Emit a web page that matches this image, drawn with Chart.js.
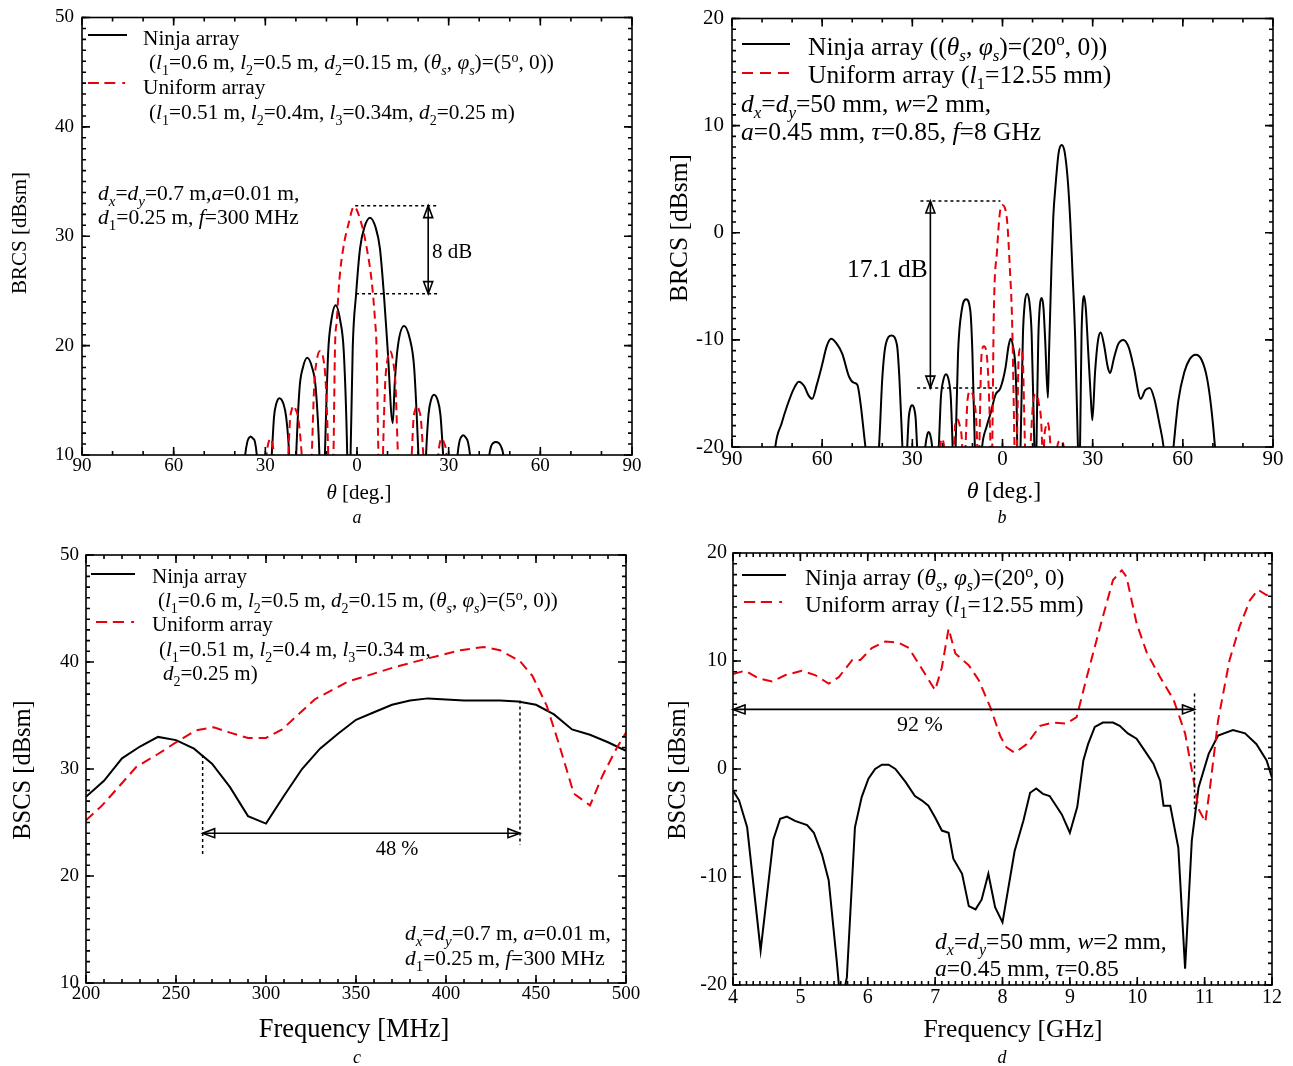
<!DOCTYPE html>
<html><head><meta charset="utf-8">
<script src="https://cdn.jsdelivr.net/npm/chart.js@4.4.1/dist/chart.umd.min.js"></script>
<style>
html,body{margin:0;padding:0;background:#fff;}
body{width:1293px;height:1066px;position:relative;overflow:hidden;}
canvas{position:absolute;left:0;top:0;}
</style></head><body>
<canvas id="ca" width="1293" height="1066"></canvas>
<canvas id="cb" width="1293" height="1066"></canvas>
<canvas id="cc" width="1293" height="1066"></canvas>
<canvas id="cd" width="1293" height="1066"></canvas>
<script>
// ---------------- DATA ----------------
// Panel a: BRCS [dBsm] vs theta [deg]
const aNinja = [[-40,0],[-36.6,10],[-35.9,11.2],[-35.5,11.5],[-34.8,11.7],[-34.0,11.5],[-33.4,11.2],[-32.8,10],[-30.4,0],
 [-27.9,10],[-27.15,13.5],[-26.4,14.7],[-25.4,15.2],[-24.1,14.7],[-23.2,13.5],[-22.2,10],[-21.05,0],
 [-19.9,10],[-18.8,16.1],[-17.7,18.0],[-16.3,18.9],[-14.7,18.0],[-13.5,16.1],[-12.3,10],[-11.4,0],
 [-10.5,10],[-9.45,19.3],[-8.4,22.3],[-7.0,23.7],[-5.5,22.3],[-4.3,19.3],[-3.2,10],[-2.65,0],
 [-2.1,10],[-1.4,19.8],[-0.3,24.7],[1.0,28.9],[2.4,30.8],[4.25,31.7],[6.1,30.8],[7.5,28.9],[8.8,24.7],[10.0,19.8],[11.7,12.9],
 [12.4,16.8],[13.4,20.0],[15.4,21.8],[17.3,20.6],[18.7,18.0],[20.1,10],[21.35,0],
 [22.6,10],[23.4,13.7],[24.2,15.0],[25.2,15.5],[26.4,15.0],[27.3,13.7],[28.2,10],[30.5,0],
 [32.9,10],[33.5,11.2],[34.0,11.6],[34.8,11.8],[35.6,11.6],[36.3,11.2],[37.0,10],[40.2,0],
 [43.3,10],[43.9,10.8],[44.6,11.1],[45.4,11.2],[46.4,11.1],[47.1,10.8],[47.9,10],[51,0]];
const aUniform = [[-32,0],[-29.6,10],[-29.0,11.1],[-28.3,11.5],[-27.7,11.1],[-27.2,10],[-24.8,0],
 [-22.5,10],[-21.9,13.3],[-21.4,14.1],[-20.8,14.5],[-20.0,14.1],[-19.2,13.3],[-18.1,10],[-16.4,0],
 [-14.8,10],[-14.0,16.4],[-13.2,18.6],[-12.1,19.5],[-10.9,18.6],[-10.2,16.4],[-9.4,10],[-8.6,0],
 [-7.7,10],[-7.2,19.8],[-6.6,22.3],[-5.8,25.9],[-4.5,28.9],[-2.8,31.1],[-1.0,32.7],[1.5,31.1],[3.2,28.9],[4.8,25.9],[5.9,22.3],[6.4,19.8],[7.0,10],[7.8,0],
 [8.5,10],[9.2,16.4],[9.9,18.6],[10.8,19.5],[11.8,18.6],[12.6,16.4],[13.4,10],[15.6,0],
 [17.9,10],[18.5,13.3],[19.0,14.1],[19.5,14.5],[20.3,14.1],[20.9,13.3],[21.7,10],[24.1,0],
 [26.6,10],[27.1,11.1],[27.7,11.5],[28.5,11.1],[29.3,10],[31,0]];
const aXTicks = [-90,-60,-30,0,30,60,90];
const aYTicks = [10,20,30,40,50];

// Panel b: BRCS [dBsm] vs theta [deg]
const bNinja = [[-77,-25],[-75.6,-20],[-73.5,-17.8],[-71.7,-16.2],[-69.5,-14.6],[-67.8,-13.9],[-66,-14.3],[-64.5,-15.2],[-63.3,-15.5],
 [-61.8,-14.2],[-60,-12.3],[-58.5,-10.6],[-57,-9.9],[-55.3,-10.3],[-53.3,-11.3],[-51.1,-13.4],[-49.5,-14.0],[-48.3,-14.2],
 [-47.2,-16.0],[-46.2,-18.5],[-45.6,-20],[-43.4,-25],
 [-41.1,-20],[-40.0,-13.6],[-38.9,-10.5],[-36.9,-9.6],[-35.1,-10.5],[-34.3,-13.6],[-33.3,-20],[-32.5,-25],
 [-31.7,-20],[-31.2,-17.3],[-30.7,-16.4],[-30.1,-16.1],[-29.4,-16.4],[-28.9,-17.3],[-28.4,-20],[-27.0,-25],
 [-25.7,-20],[-25.0,-18.8],[-24.6,-18.6],[-24.1,-18.8],[-23.4,-20],[-22.3,-25],
 [-21.2,-20],[-20.5,-15.4],[-19.8,-13.9],[-18.8,-13.2],[-17.8,-13.9],[-17.2,-15.4],[-16.6,-20],[-16.1,-25],
 [-15.6,-20],[-14.8,-11.3],[-13.6,-7.3],[-12.1,-6.2],[-10.7,-7.3],[-10.0,-11.3],[-9.2,-20],[-8.0,-25],
 [-6.8,-20],[-5.3,-18.1],[-4.0,-16.9],[-2.3,-15.1],[-0.7,-14.5],[1.0,-12.6],[2.0,-10.6],[2.7,-9.9],[3.5,-10.6],[4.3,-12.6],[4.7,-16.0],[4.9,-20],[5.5,-25],
 [6.0,-20],[6.8,-9.5],[7.4,-6.6],[8.2,-5.7],[9.0,-6.6],[9.7,-9.5],[10.6,-20],[11.0,-25],
 [11.3,-20],[11.9,-10.0],[12.4,-6.9],[13.0,-6.1],[13.6,-6.9],[14.2,-10.0],[15.1,-15.4],
 [15.5,-11.0],[16.3,-3.1],[16.9,1.5],[17.7,4.6],[18.7,7.5],[19.7,8.2],[20.7,7.5],[21.8,4.6],[22.6,0.8],[23.2,-3.1],[24.2,-10.0],[25.1,-20],[25.45,-25],
 [25.8,-20],[26.3,-9.5],[26.7,-6.6],[27.1,-5.9],[27.7,-7.0],[28.5,-11.0],[29.3,-15.0],[29.9,-17.5],
 [30.8,-13.0],[31.8,-10.0],[32.7,-9.3],[33.8,-10.5],[35.0,-12.5],[35.8,-13.1],[37.0,-11.8],[38.5,-10.4],[40.2,-10.0],[42.0,-10.7],
 [43.7,-12.6],[46.0,-15.5],[47.5,-14.7],[49.0,-14.5],[50.5,-15.5],[52.2,-17.8],[53.6,-20],[55.2,-25],
 [56.9,-20],[58.5,-15.7],[60.5,-13.0],[62.3,-11.8],[64.3,-11.4],[66.3,-11.9],[68.0,-13.5],[69.4,-16.2],[70.7,-20],[72,-25]];
const bUniform = [[-22,-25],[-20.8,-20],[-20.1,-19.2],[-19.4,-20],[-17.8,-25],
 [-16.2,-20],[-15.7,-17.8],[-15.1,-17.4],[-14.4,-17.8],[-13.4,-20],[-12.9,-25],
 [-12.3,-20],[-11.6,-15.5],[-10.7,-14.8],[-9.6,-15.5],[-8.4,-20],[-8.1,-25],
 [-7.7,-20],[-7.0,-11.5],[-6.2,-10.6],[-5.2,-11.5],[-4.0,-20],[-3.7,-25],
 [-3.4,-20],[-2.9,-7.7],[-1.8,-1.6],[-0.9,1.8],[-0.1,2.6],[0.7,2.4],[1.6,0.9],[2.4,-3.1],[3.2,-8.3],[4.0,-20],[4.4,-25],
 [4.8,-20],[5.4,-11.5],[6.0,-10.8],[6.7,-11.5],[7.5,-20],[8.4,-25],
 [9.3,-20],[10.2,-15.8],[11.0,-15.1],[12.0,-15.8],[13.2,-20],[13.5,-25],
 [13.8,-20],[14.4,-18.1],[14.9,-17.7],[15.4,-18.1],[16.0,-20],[17.1,-25],
 [18.2,-20],[19.3,-19.4],[20.4,-20],[21.5,-25]];
const bXTicks = [-90,-60,-30,0,30,60,90];
const bYTicks = [-20,-10,0,10,20];

// Panel c: BSCS [dBsm] vs frequency [MHz]
const cNinja = [[200,27.4],[210,28.9],[220,31.0],[230,32.1],[240,33.0],[250,32.7],[260,31.9],[270,30.5],[280,28.3],[290,25.6],
 [300,24.9],[310,27.5],[320,30.0],[330,31.9],[340,33.3],[350,34.6],[360,35.3],[370,36.0],[380,36.4],[390,36.6],
 [400,36.5],[410,36.4],[420,36.4],[430,36.4],[440,36.3],[450,36.0],[460,35.1],[470,33.7],[480,33.2],[490,32.5],[500,31.7]];
const cUniform = [[200,25.2],[209,26.6],[218,28.3],[228,30.2],[240,31.4],[251,32.6],[261,33.6],[271,33.9],[280,33.4],[290,32.9],
 [300,32.9],[309,33.7],[318,35.1],[327,36.5],[337,37.4],[346,38.2],[352,38.5],[371,39.5],[389,40.3],[408,41.1],
 [421,41.4],[430,41.1],[441,40.1],[448,38.7],[456,35.9],[463,32.2],[471,27.7],[480,26.6],[487,29.4],[495,32.0],[500,33.4]];
const cXTicks = [200,250,300,350,400,450,500];
const cYTicks = [10,20,30,40,50];

// Panel d: BSCS [dBsm] vs frequency [GHz]
const dNinja = [[4.00,-2.0],[4.09,-2.9],[4.21,-5.4],[4.41,-16.8],[4.60,-6.5],[4.70,-4.6],[4.80,-4.4],[4.92,-4.8],[5.10,-5.2],[5.20,-5.9],
 [5.32,-7.9],[5.42,-10.3],[5.54,-17.8],[5.60,-22.0],[5.69,-19.3],[5.81,-5.4],[5.91,-2.6],[6.01,-0.9],[6.11,0.0],[6.21,0.4],
 [6.31,0.4],[6.41,0.0],[6.56,-1.2],[6.70,-2.5],[6.80,-2.9],[6.90,-3.4],[7.00,-4.5],[7.10,-5.7],[7.20,-5.9],[7.27,-8.3],
 [7.40,-9.7],[7.50,-12.7],[7.60,-13.0],[7.69,-12.1],[7.79,-9.7],[7.89,-12.8],[8.00,-14.2],[8.18,-7.6],[8.31,-4.8],[8.41,-2.2],
 [8.50,-1.8],[8.60,-2.3],[8.70,-2.5],[8.88,-4.2],[9.00,-5.9],[9.11,-3.5],[9.20,0.8],[9.27,2.3],[9.37,3.9],[9.49,4.3],
 [9.64,4.3],[9.74,4.0],[9.86,3.3],[9.99,2.8],[10.11,1.7],[10.24,0.5],[10.34,-1.1],[10.39,-3.4],[10.49,-3.4],[10.61,-7.3],
 [10.71,-18.5],[10.81,-6.6],[10.91,-1.7],[11.06,1.4],[11.20,3.1],[11.42,3.6],[11.60,3.3],[11.77,2.3],[11.92,0.8],[12.00,-0.8]];
const dUniform = [[4.00,8.8],[4.18,9.1],[4.38,8.4],[4.58,8.1],[4.78,8.7],[5.02,9.1],[5.22,8.7],[5.42,7.9],[5.57,8.5],[5.77,10.1],
 [5.89,10.1],[6.06,11.2],[6.26,11.8],[6.46,11.7],[6.61,11.2],[6.80,9.3],[7.00,7.3],[7.10,9.4],[7.20,13.0],[7.30,10.7],
 [7.50,9.6],[7.65,8.2],[7.82,5.7],[7.97,3.0],[8.06,2.0],[8.18,1.5],[8.36,2.3],[8.56,4.0],[8.75,4.3],[8.95,4.2],
 [9.10,4.8],[9.25,8.5],[9.45,13.2],[9.64,17.5],[9.77,18.4],[9.84,17.8],[9.99,13.5],[10.14,10.8],[10.34,8.5],[10.54,6.4],
 [10.71,3.3],[10.83,-0.8],[10.91,-3.7],[11.01,-4.9],[11.08,-1.7],[11.20,4.5],[11.37,10.1],[11.52,13.2],[11.67,15.6],[11.79,16.6],
 [11.92,16.1],[12.00,16.3]];
const dXTicks = [4,5,6,7,8,9,10,11,12];
const dYTicks = [-20,-10,0,10,20];

// annotation values (data units)
const aLevels = [32.8, 24.75];     // 8 dB gap
const bLevels = [2.96, -14.5];     // 17.1 dB gap
const cBand = [264.8, 441.1];      // 48 % band
const dBand = [4.0, 10.85];        // 92 % band

// ---------------- RENDER HELPERS ----------------
const SERIF = '"Liberation Serif","Times New Roman",Times,serif';
function parseRich(s){
  const runs=[]; let it=false, sub=false, sup=false;
  for (const ch of s){
    if (ch==='*'){it=!it;continue;}
    if (ch==='_'){sub=true;continue;}
    if (ch==='^'){sup=true;continue;}
    const st=(it?'i':'n')+(sub?'b':(sup?'p':''));
    const last=runs[runs.length-1];
    if (last && last.st===st) last.t+=ch; else runs.push({t:ch,st});
    sub=false; sup=false;
  }
  return runs;
}
function rich(ctx, s, x, y, size, align){
  const runs=parseRich(s);
  const fontFor = st => (st[0]==='i'?'italic ':'') + (st.length>1? Math.round(size*0.68): size) + 'px ' + SERIF;
  let w=0;
  for (const r of runs){ ctx.font=fontFor(r.st); r.w=ctx.measureText(r.t).width; w+=r.w; }
  let cx = align==='right'? x-w : (align==='center'? x-w/2 : x);
  const base = y + size*0.34;
  ctx.textBaseline='alphabetic'; ctx.textAlign='left'; ctx.fillStyle='#000';
  for (const r of runs){
    ctx.font=fontFor(r.st);
    const dy = r.st[1]==='b'? size*0.26 : (r.st[1]==='p'? -size*0.36 : 0);
    ctx.fillText(r.t, cx, base+dy); cx+=r.w;
  }
}
function richV(ctx, s, x, y, size){
  ctx.save(); ctx.translate(x,y); ctx.rotate(-Math.PI/2); rich(ctx, s, 0, 0, size, 'center'); ctx.restore();
}
function segLine(ctx, x1, y1, x2, y2, color, dash, w){
  ctx.save(); ctx.strokeStyle=color; ctx.lineWidth=w||2; ctx.setLineDash(dash||[]);
  ctx.beginPath(); ctx.moveTo(x1,y1); ctx.lineTo(x2,y2); ctx.stroke(); ctx.restore();
}
function dashDot(ctx, x1, x2, y){ // legend sample "– – ·"
  const L=x2-x1;
  segLine(ctx, x1, y, x1+L*0.28, y, '#e8000b');
  segLine(ctx, x1+L*0.42, y, x1+L*0.70, y, '#e8000b');
  segLine(ctx, x1+L*0.88, y, x1+L*0.95, y, '#e8000b');
}
function head(ctx, tx, ty, dx, dy){
  const L=12, W=4.5, bx=tx-dx*L, by=ty-dy*L, px=-dy, py=dx;
  ctx.beginPath(); ctx.moveTo(tx,ty); ctx.lineTo(bx+px*W,by+py*W); ctx.lineTo(bx-px*W,by-py*W); ctx.closePath(); ctx.stroke();
}
function arrow2(ctx, x1, y1, x2, y2){
  ctx.save(); ctx.strokeStyle='#000'; ctx.lineWidth=1.6; ctx.setLineDash([]);
  ctx.beginPath(); ctx.moveTo(x1,y1); ctx.lineTo(x2,y2); ctx.stroke();
  const len=Math.hypot(x2-x1,y2-y1), ux=(x2-x1)/len, uy=(y2-y1)/len;
  head(ctx, x2, y2, ux, uy); head(ctx, x1, y1, -ux, -uy);
  ctx.restore();
}
function dotted(ctx, x1, y1, x2, y2){ segLine(ctx, x1, y1, x2, y2, '#000', [3,3], 1.5); }

const DECOR = {};
const framePlugin = {
  id: 'frame',
  afterDraw(chart){
    const d = DECOR[chart.canvas.id]; const ctx = chart.ctx, a = chart.chartArea;
    const xs = chart.scales.x, ys = chart.scales.y;
    ctx.save(); ctx.strokeStyle='#000'; ctx.lineWidth=1.6; ctx.setLineDash([]);
    const tickSet = (scale, step, len, horiz) => {
      const n = Math.round((scale.max-scale.min)/step);
      for (let i=0;i<=n;i++){
        const p = scale.getPixelForValue(scale.min + i*step);
        ctx.beginPath();
        if (horiz){ ctx.moveTo(p,a.bottom); ctx.lineTo(p,a.bottom-len); ctx.moveTo(p,a.top); ctx.lineTo(p,a.top+len); }
        else { ctx.moveTo(a.left,p); ctx.lineTo(a.left+len,p); ctx.moveTo(a.right,p); ctx.lineTo(a.right-len,p); }
        ctx.stroke();
      }
    };
    tickSet(xs, d.xMinor, 4, true); tickSet(xs, d.xMajor, 8, true);
    tickSet(ys, d.yMinor, 4, false); tickSet(ys, d.yMajor, 8, false);
    ctx.strokeRect(a.left, a.top, a.right-a.left, a.bottom-a.top);
    d.draw(ctx, v=>xs.getPixelForValue(v), v=>ys.getPixelForValue(v));
    ctx.restore();
  }
};

function makeChart(id, c){
  const toPts = arr => arr.map(p=>({x:p[0], y:p[1]}));
  const ds = [
    {data: toPts(c.uniform), borderColor:'#e8000b', borderWidth:2, borderDash:c.dash, pointRadius:0, fill:false, clip:0,
     tension: c.smooth?0.4:0, cubicInterpolationMode: c.smooth?'monotone':'default'},
    {data: toPts(c.ninja), borderColor:'#000', borderWidth:2, pointRadius:0, fill:false, clip:0,
     tension: c.smooth?0.4:0, cubicInterpolationMode: c.smooth?'monotone':'default'}
  ];
  const tickFont = {family: SERIF, size: c.tickSize, lineHeight: 1};
  return new Chart(document.getElementById(id), {
    type: 'line',
    data: {datasets: ds},
    options: {
      responsive:false, animation:false, devicePixelRatio:1, events:[],
      elements:{line:{capBezierPoints:false}},
      layout:{padding:c.pad},
      plugins:{legend:{display:false}, tooltip:{enabled:false}},
      scales:{
        x:{type:'linear', min:c.xTicks[0], max:c.xTicks[c.xTicks.length-1],
           afterFit: s=>{s.height=30;},
           afterBuildTicks: s=>{s.ticks=c.xTicks.map(v=>({value:v}));},
           grid:{display:false, drawTicks:false}, border:{display:false},
           ticks:{autoSkip:false, maxRotation:0, padding:c.xPad, color:'#000', font:tickFont, callback:c.xFmt}},
        y:{type:'linear', min:c.yTicks[0], max:c.yTicks[c.yTicks.length-1],
           afterFit: s=>{s.width=50;},
           afterBuildTicks: s=>{s.ticks=c.yTicks.map(v=>({value:v}));},
           grid:{display:false, drawTicks:false}, border:{display:false},
           ticks:{autoSkip:false, padding:c.yPad, color:'#000', font:tickFont, callback:v=>String(v)}}
      }
    },
    plugins:[framePlugin]
  });
}

// ---------------- PANEL a ----------------
DECOR.ca = {xMajor:30, xMinor:10, yMajor:10, yMinor:1, draw(ctx, px, py){
  dotted(ctx, px(-0.6), py(aLevels[0]), px(26.6), py(aLevels[0]));
  dotted(ctx, px(-0.3), py(aLevels[1]), px(26.6), py(aLevels[1]));
  arrow2(ctx, px(23.3), py(aLevels[0]), px(23.3), py(aLevels[1]));
  rich(ctx, '8 dB', 432, 251, 21, 'left');
  segLine(ctx, 88, 35, 127, 35, '#000'); dashDot(ctx, 88, 127, 83);
  rich(ctx, 'Ninja array', 143, 38, 21.3, 'left');
  rich(ctx, '(*l*_1=0.6 m, *l*_2=0.5 m, *d*_2=0.15 m, (*θ_s*, *φ_s*)=(5^o, 0))', 149, 62, 21.3, 'left');
  rich(ctx, 'Uniform array', 143, 87, 21.3, 'left');
  rich(ctx, '(*l*_1=0.51 m, *l*_2=0.4m, *l*_3=0.34m, *d*_2=0.25 m)', 149, 112, 21.3, 'left');
  rich(ctx, '*d_x*=*d_y*=0.7 m,*a*=0.01 m,', 98, 193, 21.5, 'left');
  rich(ctx, '*d*_1=0.25 m, *f*=300 MHz', 98, 217, 21.5, 'left');
  richV(ctx, 'BRCS [dBsm]', 19, 233, 21);
  rich(ctx, '*θ* [deg.]', 359, 492, 21, 'center');
  rich(ctx, '*a*', 357, 517, 18, 'center');
}};
makeChart('ca', {ninja:aNinja, uniform:aUniform, xTicks:aXTicks, yTicks:aYTicks, smooth:true, dash:[8,5],
  pad:{left:32, right:661, top:15, bottom:581}, tickSize:19, xPad:2, yPad:8, xFmt:v=>String(Math.abs(v))});

// ---------------- PANEL b ----------------
DECOR.cb = {xMajor:30, xMinor:10, yMajor:10, yMinor:1, draw(ctx, px, py){
  dotted(ctx, px(-27.3), py(bLevels[0]), px(-0.7), py(bLevels[0]));
  dotted(ctx, px(-28.4), py(bLevels[1]), px(-1.8), py(bLevels[1]));
  arrow2(ctx, px(-24), py(bLevels[0]), px(-24), py(bLevels[1]));
  rich(ctx, '17.1 dB', 847, 268, 25.5, 'left');
  segLine(ctx, 742, 44, 790, 44, '#000');
  segLine(ctx, 742, 73, 790, 73, '#e8000b', [11,7]);
  rich(ctx, 'Ninja array ((*θ_s*, *φ_s*)=(20^o, 0))', 808, 46, 25.5, 'left');
  rich(ctx, 'Uniform array (*l*_1=12.55 mm)', 808, 74, 25.5, 'left');
  rich(ctx, '*d_x*=*d_y*=50 mm, *w*=2 mm,', 741, 103, 25.5, 'left');
  rich(ctx, '*a*=0.45 mm, *τ*=0.85, *f*=8 GHz', 741, 131, 25.5, 'left');
  richV(ctx, 'BRCS [dBsm]', 678, 228, 25.5);
  rich(ctx, '*θ* [deg.]', 1004, 490, 24, 'center');
  rich(ctx, '*b*', 1002, 517, 18, 'center');
}};
makeChart('cb', {ninja:bNinja, uniform:bUniform, xTicks:bXTicks, yTicks:bYTicks, smooth:true, dash:[8,5],
  pad:{left:682, right:20, top:12, bottom:589}, tickSize:21, xPad:2, yPad:8, xFmt:v=>String(Math.abs(v))});

// ---------------- PANEL c ----------------
DECOR.cc = {xMajor:50, xMinor:10, yMajor:10, yMinor:1, draw(ctx, px, py){
  dotted(ctx, px(cBand[0]), py(31.3), px(cBand[0]), py(22.0));
  dotted(ctx, px(cBand[1]), py(36.4), px(cBand[1]), py(22.9));
  arrow2(ctx, px(cBand[0]), py(24.0), px(cBand[1]), py(24.0));
  rich(ctx, '48 %', 397, 848, 20.5, 'center');
  segLine(ctx, 91, 574, 135, 574, '#000'); dashDot(ctx, 96, 136, 622);
  rich(ctx, 'Ninja array', 152, 576, 21, 'left');
  rich(ctx, '(*l*_1=0.6 m, *l*_2=0.5 m, *d*_2=0.15 m, (*θ_s*, *φ_s*)=(5^o, 0))', 158, 600, 21, 'left');
  rich(ctx, 'Uniform array', 152, 624, 21, 'left');
  rich(ctx, '(*l*_1=0.51 m, *l*_2=0.4 m, *l*_3=0.34 m,', 159, 649, 21, 'left');
  rich(ctx, '*d*_2=0.25 m)', 163, 673, 21, 'left');
  rich(ctx, '*d_x*=*d_y*=0.7 m, *a*=0.01 m,', 405, 933, 21.4, 'left');
  rich(ctx, '*d*_1=0.25 m, *f*=300 MHz', 405, 958, 21.4, 'left');
  richV(ctx, 'BSCS [dBsm]', 22, 770, 24.5);
  rich(ctx, 'Frequency [MHz]', 354, 1028, 26.5, 'center');
  rich(ctx, '*c*', 357, 1057, 18, 'center');
}};
makeChart('cc', {ninja:cNinja, uniform:cUniform, xTicks:cXTicks, yTicks:cYTicks, smooth:false, dash:[10,6],
  pad:{left:36, right:667, top:555, bottom:53}, tickSize:19, xPad:2, yPad:7, xFmt:v=>String(v)});

// ---------------- PANEL d ----------------
DECOR.cd = {xMajor:1, xMinor:0.1, yMajor:10, yMinor:1, draw(ctx, px, py){
  arrow2(ctx, px(dBand[0]), py(5.52), px(dBand[1]), py(5.52));
  dotted(ctx, px(dBand[1]), py(7.0), px(dBand[1]), py(-3.7));
  rich(ctx, '92 %', 920, 724, 22, 'center');
  segLine(ctx, 742, 575, 786, 575, '#000'); dashDot(ctx, 744, 784, 602);
  rich(ctx, 'Ninja array (*θ_s*, *φ_s*)=(20^o, 0)', 805, 577, 23.4, 'left');
  rich(ctx, 'Uniform array (*l*_1=12.55 mm)', 805, 604, 23.4, 'left');
  rich(ctx, '*d_x*=*d_y*=50 mm, *w*=2 mm,', 935, 941, 23.6, 'left');
  rich(ctx, '*a*=0.45 mm, *τ*=0.85', 935, 968, 23.6, 'left');
  richV(ctx, 'BSCS [dBsm]', 677, 770, 24.5);
  rich(ctx, 'Frequency [GHz]', 1013, 1028, 25.5, 'center');
  rich(ctx, '*d*', 1002, 1057, 18, 'center');
}};
makeChart('cd', {ninja:dNinja, uniform:dUniform, xTicks:dXTicks, yTicks:dYTicks, smooth:false, dash:[10,6],
  pad:{left:683, right:21, top:553, bottom:51}, tickSize:20, xPad:3, yPad:6, xFmt:v=>String(v)});
</script>
</body></html>
